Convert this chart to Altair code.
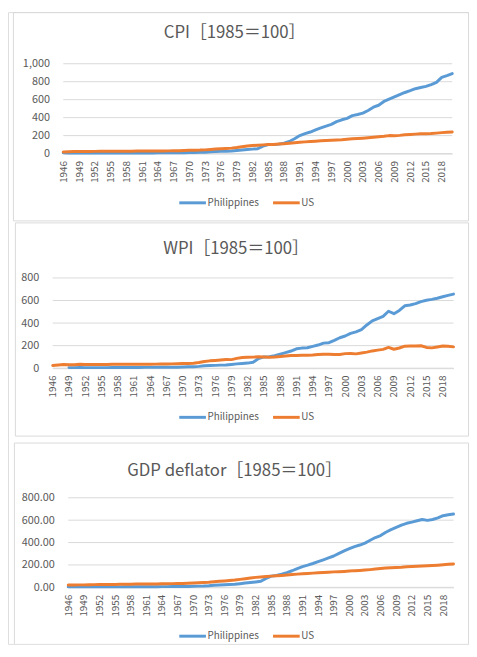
import altair as alt
import pandas as pd

FONT = "Noto Sans CJK JP"
TXT = "#595959"
GRID = "#D9D9D9"
H = 640

years = list(range(1946, 2021))
tick_years = list(range(1946, 2019, 3))
series_names = ["Philippines", "US"]
series_colors = ["#5B9BD5", "#ED7D31"]

titles = ["CPI［1985＝100］", "WPI［1985＝100］", "GDP deflator［1985＝100］"]

cpi_ph = [8, 7, 6.5, 6, 5.8, 6, 5.8, 5.7, 5.6, 5.5,
          5.6, 5.7, 5.9, 5.9, 6.1, 6.3, 6.7, 7.1, 7.7, 8.0,
          8.4, 8.9, 9.1, 9.3, 10.8, 12.6, 13.4, 15.5, 20.7, 22.4,
          24.3, 26.6, 28.5, 33.6, 39.7, 44.6, 49.4, 54.5, 82, 100,
          101, 105, 115, 135, 165, 200, 222, 240, 263, 285,
          306, 325, 355, 376, 392, 422, 435, 450, 480, 516,
          538, 580, 605, 630, 655, 680, 700, 722, 735, 748,
          768, 792, 848, 868, 890]
cpi_us = [18.1, 20.7, 22.4, 22.1, 22.4, 24.2, 24.6, 24.8, 25.0, 24.9,
          25.3, 26.1, 26.9, 27.0, 27.5, 27.8, 28.1, 28.4, 28.8, 29.3,
          30.1, 31.0, 32.3, 34.1, 36.1, 37.6, 38.8, 41.3, 45.8, 50.0,
          52.9, 56.3, 60.6, 67.5, 76.6, 84.5, 89.7, 92.6, 96.6, 100,
          101.9, 105.6, 109.9, 115.2, 121.5, 126.6, 130.4, 134.3, 137.7, 141.6,
          145.8, 149.2, 151.5, 154.8, 160.0, 164.6, 167.2, 171.0, 175.6, 181.5,
          187.4, 192.7, 200.1, 199.3, 202.7, 209.0, 213.4, 216.5, 220.0, 220.3,
          223.0, 227.8, 233.4, 237.6, 240.5]

wpi_ph = [None, None, None, 5, 5, 5.5, 5, 5, 5, 5,
          5, 5.2, 5.3, 5.5, 5.8, 6, 6.5, 7, 7.2, 7.4,
          7.7, 8, 8.2, 8.4, 10, 12, 13, 16, 22, 23,
          25, 27, 29, 33, 38, 42, 45, 52, 85, 100,
          102, 110, 125, 138, 152, 172, 178, 181, 193, 205,
          222, 226, 247, 270, 285, 308, 322, 342, 383, 420,
          440, 460, 505, 483, 512, 553, 560, 572, 590, 602,
          610, 620, 633, 645, 657]
wpi_us = [24, 29, 32, 30, 31, 34, 33, 32, 32, 32,
          33, 34, 35, 35, 35, 35, 35, 35, 35, 36,
          37, 37, 38, 39, 41, 42, 44, 50, 59, 65,
          68, 72, 77, 76, 87, 95, 97, 98, 100.5, 100,
          97, 99.6, 103.6, 108.7, 112.7, 113, 114, 115, 117, 121,
          124, 124, 121, 122, 129, 130, 127, 134, 142, 153,
          160, 167, 184, 168, 179, 195, 196, 197, 199, 184,
          180, 188, 196, 194, 189]

gdp_ph = [4, 4, 4, 4, 4, 4.2, 4.1, 4, 4, 4,
          4.1, 4.2, 4.3, 4.5, 4.7, 4.9, 5.3, 5.8, 6.1, 6.4,
          6.8, 7.2, 7.6, 8, 9.5, 10.8, 11.8, 14, 18.5, 20.5,
          22.5, 24.5, 27, 32, 38, 43, 48, 54, 80, 100,
          106, 118, 132, 148, 168, 185, 198, 213, 230, 246,
          263, 280, 303, 325, 345, 364, 378, 395, 420, 445,
          462, 492, 515, 535, 556, 572, 583, 595, 606, 598,
          606, 620, 640, 648, 655]
gdp_us = [20, 21, 22, 22, 23, 24, 25, 25, 25, 26,
          27, 28, 28, 29, 29, 30, 30, 30, 31, 32,
          33, 34, 35, 37, 39, 41, 43, 45, 50, 54,
          57, 61, 65, 71, 77, 84, 89, 93, 97, 100,
          103, 106, 110, 114, 118, 121, 124, 127, 130, 133,
          135, 138, 140, 142, 145, 149, 151, 154, 158, 163,
          168, 172, 175, 177, 179, 183, 186, 189, 191, 193,
          195, 198, 202, 206, 209]

ONE = alt.Data(values=[{"k": 1}])


def rule(**enc):
    return alt.Chart(ONE).mark_rule(color=GRID, strokeWidth=1).encode(
        **{k: alt.value(v) for k, v in enc.items()})


def panel(ph, us, title, ymax, yfmt, xr, yr, frame, open_bottom, title_xy, legend_xy):
    df = pd.DataFrame({
        "year": years + years,
        "series": [series_names[0]] * len(years) + [series_names[1]] * len(years),
        "value": ph + us,
    })
    gridvals = list(range(0, ymax + 1, 200))
    yscale = alt.Scale(domain=[0, ymax], range=list(yr), nice=False, zero=True)
    xscale = alt.Scale(domain=[1946, 2020], range=list(xr), nice=False, zero=False)
    yaxis = alt.Axis(orient="left", offset=-xr[0], values=gridvals,
                     format=yfmt, labelPadding=14, ticks=False, tickSize=0,
                     domain=False, grid=False, labelFont=FONT,
                     labelFontSize=11, labelColor=TXT, labelOverlap=False,
                     title=None)

    fx1, fx2, fy1, fy2 = frame
    layers = []
    if open_bottom:
        layers += [rule(x=fx1, x2=fx2, y=fy1), rule(x=fx1, y=fy1, y2=fy2),
                   rule(x=fx2, y=fy1, y2=fy2)]
    else:
        layers.append(alt.Chart(ONE).mark_rect(fill="transparent", stroke=GRID,
                                               strokeWidth=1).encode(
            x=alt.value(fx1), x2=alt.value(fx2), y=alt.value(fy1), y2=alt.value(fy2)))

    grid = alt.Chart(pd.DataFrame({"value": gridvals})).mark_rule(
        color=GRID, strokeWidth=1).encode(
        y=alt.Y("value:Q", scale=yscale, axis=yaxis),
        x=alt.value(xr[0]), x2=alt.value(xr[1]))
    layers.append(grid)

    lines = alt.Chart(df).mark_line(strokeWidth=3, strokeJoin="round", strokeCap="round").encode(
        x=alt.X("year:Q", scale=xscale,
                axis=alt.Axis(orient="bottom", offset=yr[0] - H, values=tick_years,
                              format="d", labelAngle=270, labelFlush=False,
                              labelOverlap=False, labelBound=False, labelPadding=7,
                              ticks=False, tickSize=0, grid=False, domainColor=GRID,
                              labelFont=FONT, labelFontSize=10, labelColor=TXT,
                              title=None)),
        y=alt.Y("value:Q", scale=yscale, axis=yaxis),
        color=alt.Color("series:N",
                        scale=alt.Scale(domain=series_names, range=series_colors),
                        legend=alt.Legend(orient="none", legendX=legend_xy[0],
                                          legendY=legend_xy[1], direction="horizontal",
                                          title=None, symbolType="stroke",
                                          symbolSize=729, symbolStrokeWidth=3,
                                          labelFont=FONT, labelFontSize=10,
                                          labelColor=TXT, labelOffset=0,
                                          columnPadding=7, padding=0)),
    )
    layers.append(lines)
    layers.append(alt.Chart(alt.Data(values=[{"t": title}])).mark_text(
        font=FONT, fontSize=17, color=TXT, align="center", baseline="middle").encode(
        x=alt.value(title_xy[0]), y=alt.value(title_xy[1]), text="t:N"))
    return alt.layer(*layers)


p1 = panel(cpi_ph, cpi_us, titles[0], 1000, ",.0f", xr=(56, 450), yr=(143.3, 52.3),
           frame=(5.5, 466.5, 0.5, 211.5), open_bottom=False,
           title_xy=(229.5, 21.7), legend_xy=(172, 178.2))
p2 = panel(wpi_ph, wpi_us, titles[1], 800, "d", xr=(45.3, 451.3), yr=(360.7, 269.3),
           frame=(7.5, 466.5, 213.5, 429.5), open_bottom=False,
           title_xy=(231, 240.3), legend_xy=(172, 395.5))
p3 = panel(gdp_ph, gdp_us, titles[2], 800, ".2f", xr=(61, 451.3), yr=(582.7, 492),
           frame=(6.5, 466.5, 436.5, H), open_bottom=True,
           title_xy=(229.5, 465), legend_xy=(172, 617.2))

chart = alt.layer(p1, p2, p3).resolve_scale(
    x="independent", y="independent", color="independent"
).resolve_axis(x="independent", y="independent").resolve_legend(
    color="independent"
).properties(
    width=467, height=H, padding=0,
    autosize=alt.AutoSizeParams(type="none")
).configure_view(stroke=None).configure(background="white")

chart.save("out.html", embed_options={"renderer": "svg", "actions": False})
